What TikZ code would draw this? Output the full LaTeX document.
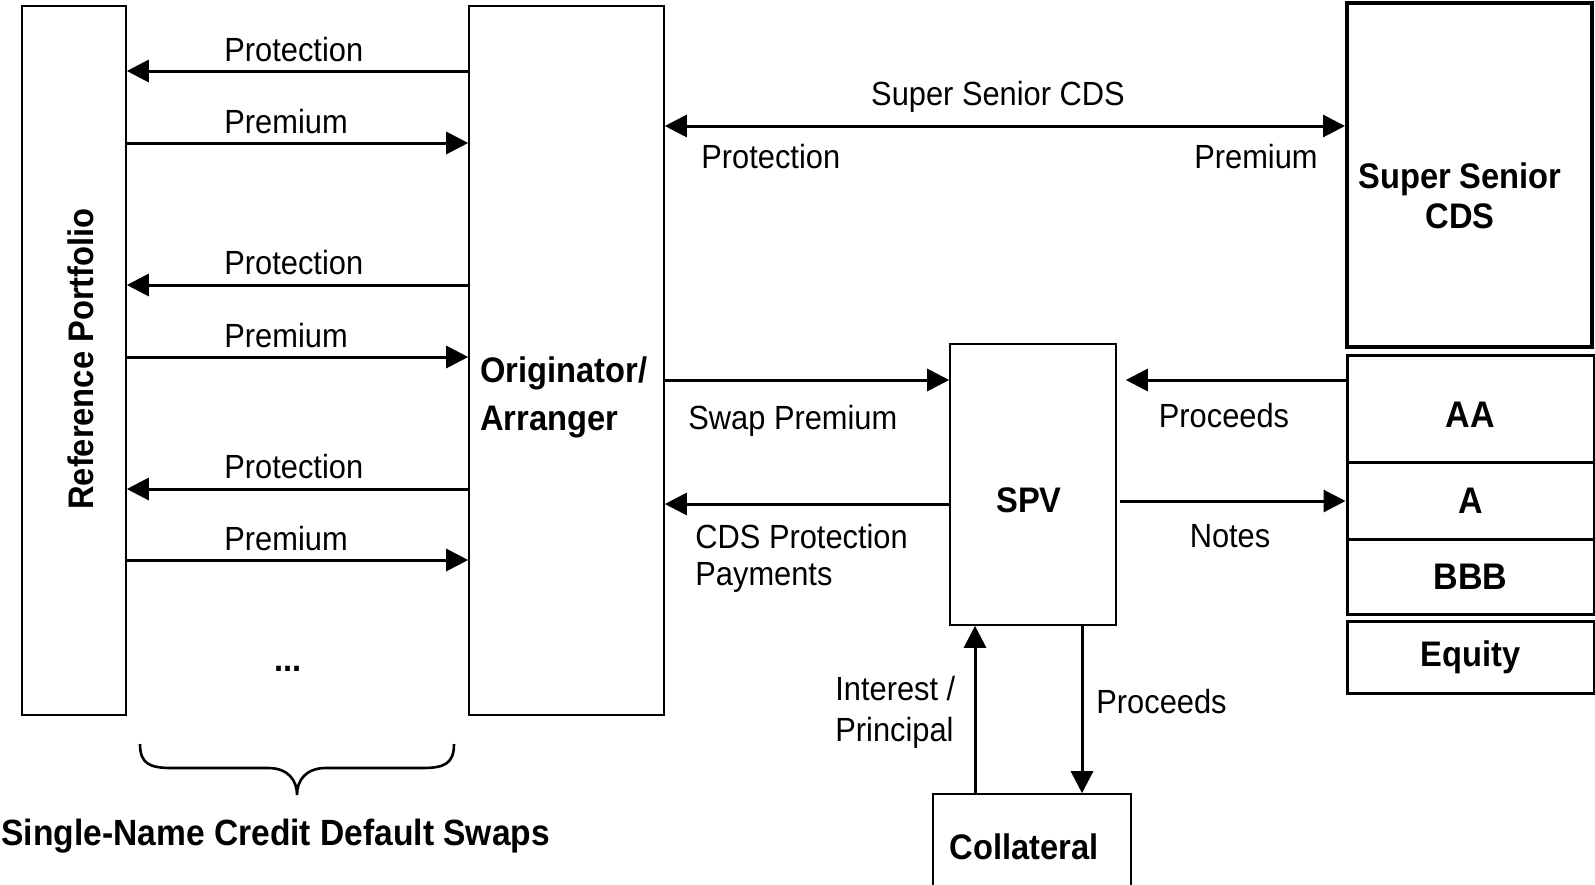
\documentclass[tikz,border=0pt]{standalone}
\usepackage{fontspec}
\setmainfont{Liberation Sans}[FakeStretch=0.92]
\usetikzlibrary{arrows.meta}

\begin{document}
\begin{tikzpicture}[x=0.5pt,y=-0.5pt,
  box/.style={draw,line width=0.8pt,inner sep=0pt},
  tranche/.style={draw,line width=1.5pt,inner sep=0pt,minimum width=123.5pt,
    font=\fontsize{18.5}{20}\selectfont\bfseries},
  flow/.style={-{Triangle[length=11pt,width=11pt]},line width=1.5pt},
  flowboth/.style={{Triangle[length=11pt,width=11pt]}-{Triangle[length=11pt,width=11pt]},line width=1.5pt},
  lbl/.style={inner sep=0pt,font=\fontsize{16.75}{18.5}\selectfont},
  heavy/.style={inner sep=0pt,align=center,font=\fontsize{17.75}{20}\selectfont\bfseries}]
  \clip (0,0) rectangle (1595,884);
  \fill[white] (0,0) rectangle (1595,884);

  % ---- boxes ----
  \node[box,minimum width=52pt,minimum height=354.5pt] (refp) at (74,360.5) {};
  \node[heavy,rotate=90] (refptxt) at (81,359) {Reference Portfolio};
  \node[box,minimum width=97.5pt,minimum height=354.5pt] (orig) at (566.5,360.5) {};
  \node[heavy,align=left,anchor=west,font=\fontsize{17.75}{24}\selectfont\bfseries] (origtxt) at (480,397) {Originator/\\Arranger};
  \node[box,line width=2pt,minimum width=122.5pt,minimum height=172pt] (sscds) at (1469.5,175) {};
  \node[heavy] (sscdstxt) at (1460,196) {Super Senior\\CDS};
  \node[box,minimum width=83pt,minimum height=140.5pt] (spv) at (1033,484.5) {};
  \node[heavy] (spvtxt) at (1029,500) {SPV};
  \node[box,minimum width=99pt,minimum height=58pt] (coll) at (1032,852) {};
  \node[heavy] (colltxt) at (1024,847) {Collateral};

  % tranches
  \node[tranche,minimum height=53.5pt,text height=19pt,text depth=0pt] (aa) at (1470.5,408.5) {AA};
  \node[tranche,minimum height=38.5pt] (a) at (1470.5,500.5) {A};
  \node[tranche,minimum height=37.5pt] (bbb) at (1470.5,576.5) {BBB};
  \node[tranche,minimum height=36pt,font=\fontsize{17.75}{20}\selectfont\bfseries] (equity) at (1470.5,657) {Equity};

  % ---- rows of the arrows ----
  \coordinate (r1) at (0,71);
  \coordinate (r2) at (0,143);
  \coordinate (r3) at (0,285);
  \coordinate (r4) at (0,357);
  \coordinate (r5) at (0,489);
  \coordinate (r6) at (0,560);
  \coordinate (rss) at (0,126);
  \coordinate (rsw) at (0,380);
  \coordinate (rcds) at (0,504);
  \coordinate (rnt) at (0,501);
  \coordinate (cint) at (975,0);
  \coordinate (cpro) at (1082,0);

  % single-name swaps
  \draw[flow] (orig.west |- r1) -- (refp.east |- r1);
  \draw[flow] (refp.east |- r2) -- (orig.west |- r2);
  \draw[flow] (orig.west |- r3) -- (refp.east |- r3);
  \draw[flow] (refp.east |- r4) -- (orig.west |- r4);
  \draw[flow] (orig.west |- r5) -- (refp.east |- r5);
  \draw[flow] (refp.east |- r6) -- (orig.west |- r6);
  \node[lbl,anchor=west] (prot1) at (224,50) {Protection};
  \node[lbl,anchor=west] (prem1) at (224,122) {Premium};
  \node[lbl,anchor=west] (prot2) at (224,263) {Protection};
  \node[lbl,anchor=west] (prem2) at (224,336) {Premium};
  \node[lbl,anchor=west] (prot3) at (224,467) {Protection};
  \node[lbl,anchor=west] (prem3) at (224,539) {Premium};
  \node[heavy] (more) at (288,669) {...};

  % brace under the swaps
  \draw[line width=1.3pt] (140,744) .. controls (140,764) and (150,768) .. (172,768) -- (268,768)
    .. controls (288,768) and (297,780) .. (297,795)
    .. controls (297,780) and (306,768) .. (326,768) -- (422,768)
    .. controls (444,768) and (454,764) .. (454,744);
  \node[heavy,anchor=west,font=\fontsize{18.25}{20}\selectfont\bfseries] (sncds) at (1,836) {Single-Name Credit Default Swaps};

  % ---- super senior swap ----
  \draw[flowboth] (orig.east |- rss) -- (sscds.west |- rss);
  \node[lbl] (sstxt) at (998,97) {Super Senior CDS};
  \node[lbl,anchor=west] (ssprot) at (701,157) {Protection};
  \node[lbl,anchor=east] (ssprem) at (1318,157) {Premium};

  % ---- originator <-> SPV ----
  \draw[flow] (orig.east |- rsw) -- (spv.west |- rsw);
  \node[lbl,anchor=west] (swprem) at (688,421) {Swap Premium};
  \draw[flow] (spv.west |- rcds) -- (orig.east |- rcds);
  \node[lbl,anchor=west,align=left] (cdspay) at (695,558) {CDS Protection\\Payments};

  % ---- SPV <-> notes ----
  \draw[flow,shorten >=4.5pt] (aa.west |- rsw) -- (spv.east |- rsw);
  \node[lbl] (proc1) at (1224,416) {Proceeds};
  \draw[flow,shorten <=1.5pt] (spv.east |- rnt) -- (a.west |- rnt);
  \node[lbl] (notes) at (1230,536) {Notes};

  % ---- SPV <-> collateral ----
  \draw[flow] (coll.north -| cint) -- (spv.south -| cint);
  \node[lbl,anchor=west,align=left,font=\fontsize{16.75}{20.5}\selectfont] (intpr) at (835,712) {Interest /\\Principal};
  \draw[flow] (spv.south -| cpro) -- (coll.north -| cpro);
  \node[lbl,anchor=west] (proc2) at (1096,702) {Proceeds};
\end{tikzpicture}
\end{document}
